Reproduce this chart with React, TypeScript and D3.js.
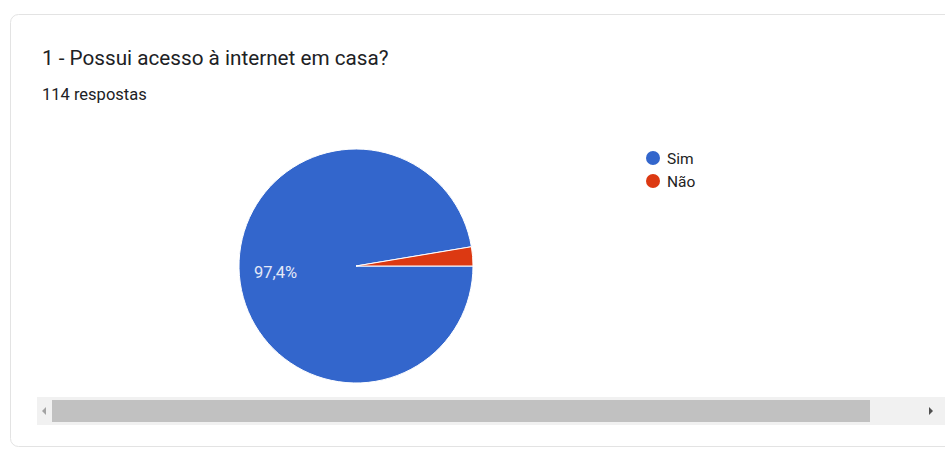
import React from "react";
import * as d3 from "d3";

const categories = ["Sim", "Não"];
const values = [111, 3];
const colors = ["#3366cc", "#dc3912"];
const title = "1 - Possui acesso à internet em casa?";
const subtitle = "114 respostas";

export default function App() {
  const W = 945, H = 450;
  const cx = 356, cy = 266, r = 117;
  const total = d3.sum(values);
  const pie = d3.pie<number>().sort(null).startAngle(Math.PI / 2).endAngle(Math.PI / 2 + 2 * Math.PI);
  const arcs = pie(values);
  const arc = d3.arc<d3.PieArcDatum<number>>().innerRadius(0).outerRadius(r);
  const fmt = (v: number) => ((v / total) * 100).toFixed(1).replace(".", ",") + "%";
  return (
    <svg width={W} height={H} style={{ position: "absolute", left: 0, top: 0, background: "#fff" }}
      fontFamily="Roboto, Arial, sans-serif">
      <rect x={10.5} y={14.5} width={960} height={432} rx={8} fill="#fff" stroke="#e3e3e3" />
      <text x={42} y={65} fontSize={20.7} fill="#202124">{title}</text>
      <text x={42} y={100} fontSize={16.5} fill="#202124">{subtitle}</text>
      <g transform={`translate(${cx},${cy})`}>
        {arcs.map((a, i) => (
          <path key={i} d={arc(a) || ""} fill={colors[i]} stroke="#fff" strokeWidth={1} />
        ))}
        {arcs.map((a, i) => {
          const frac = values[i] / total;
          if (frac < 0.05) return null;
          return (
            <text key={"l" + i} x={-102} y={11.5} fontSize={16.5} fill="#e3e8f7">
              {fmt(values[i])}
            </text>
          );
        })}
      </g>
      {categories.map((c, i) => (
        <g key={c} transform={`translate(653,${158 + i * 23})`}>
          <circle r={7} fill={colors[i]} />
          <text x={14} y={5.5} fontSize={15.5} fill="#222">{c}</text>
        </g>
      ))}
      <rect x={37} y={397} width={908} height={28} fill="#f1f1f1" />
      <rect x={52} y={400} width={818} height={22} fill="#c1c1c1" />
      <path d="M46,407 L42,411 L46,415 Z" fill="#a3a3a3" />
      <path d="M929,407 L933,411 L929,415 Z" fill="#505050" />
    </svg>
  );
}
